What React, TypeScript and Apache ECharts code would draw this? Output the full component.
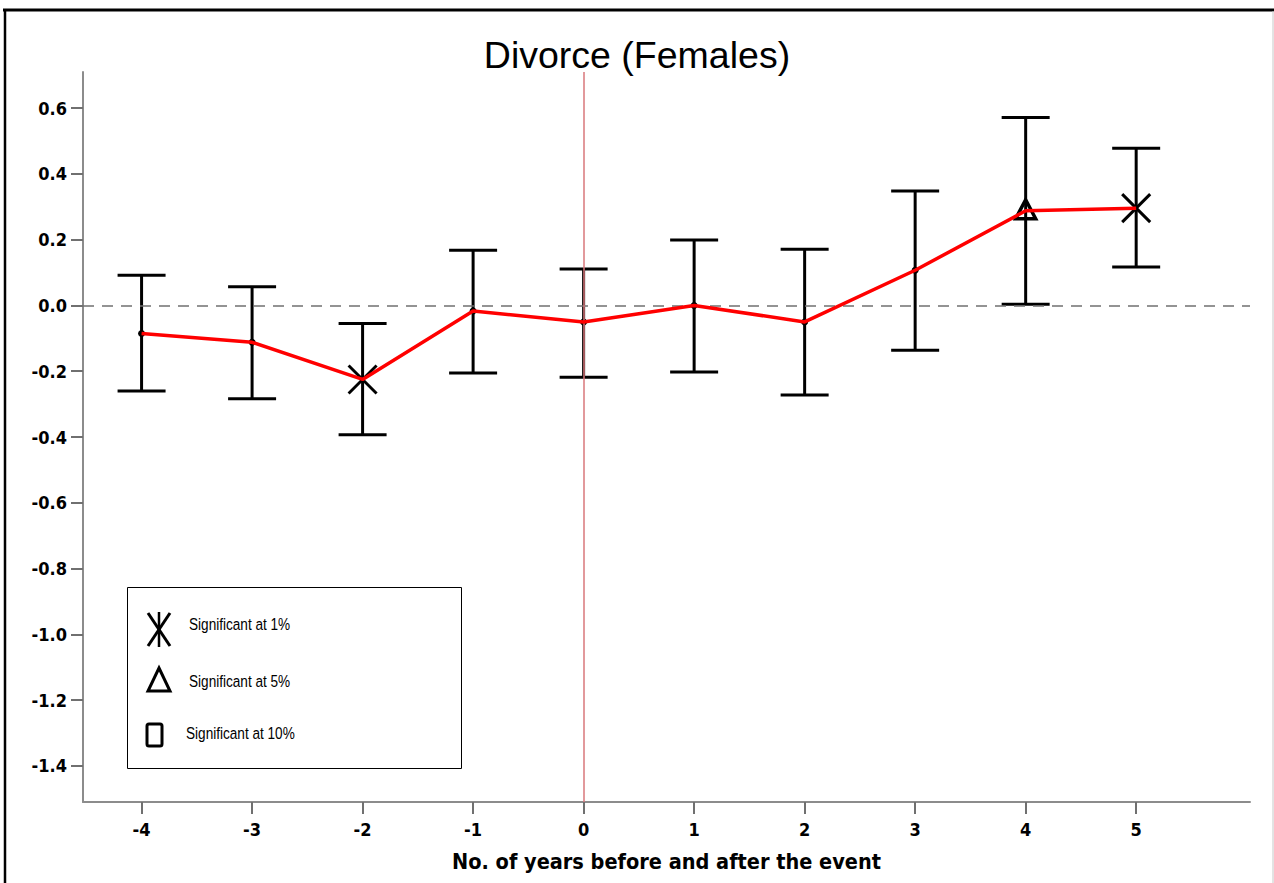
import React, { useEffect, useRef } from "react";
import * as echarts from "echarts";

const years = [-4, -3, -2, -1, 0, 1, 2, 3, 4, 5];
const means = [-0.085, -0.112, -0.225, -0.017, -0.05, 0.0, -0.05, 0.107, 0.288, 0.296];
const upper = [0.092, 0.057, -0.055, 0.168, 0.111, 0.199, 0.171, 0.348, 0.572, 0.478];
const lower = [-0.26, -0.284, -0.393, -0.205, -0.218, -0.202, -0.272, -0.136, 0.004, 0.117];
const significance = ["", "", "1%", "", "", "", "", "", "5%", "1%"];
const yTicks = [-1.4, -1.2, -1.0, -0.8, -0.6, -0.4, -0.2, 0.0, 0.2, 0.4, 0.6];
const legendLabels = ["Significant at 1%", "Significant at 5%", "Significant at 10%"];

const TICK_FONT = "'DejaVu Sans Condensed', 'DejaVu Sans', sans-serif";
const LEGEND_FONT = "'Liberation Sans', Arial, sans-serif";

export default function App() {
  const ref = useRef<HTMLDivElement>(null);
  useEffect(() => {
    if (!ref.current) return;
    const chart = echarts.init(ref.current, null, { renderer: "svg" });
    const black = "#000";
    const legendText = (label: string, x: number, y: number) => ({
      type: "text",
      x,
      y,
      scaleX: 0.8,
      z: 11,
      style: { text: label, fontFamily: LEGEND_FONT, fontSize: 17, fill: "#000", verticalAlign: "middle" },
    });
    const option: any = {
      animation: false,
      backgroundColor: "#fff",
      title: {
        text: "Divorce (Females)",
        left: "center",
        top: 31,
        padding: [5, 0, 5, 6],
        textStyle: { fontFamily: "'Liberation Sans', Arial, sans-serif", fontSize: 37.5, fontWeight: "normal", color: "#000" },
      },
      grid: { left: 83, top: 72, right: 24, bottom: 81, containLabel: false },
      xAxis: {
        type: "value",
        min: -4.53,
        max: 6.03,
        name: "No. of years before and after the event",
        nameLocation: "middle",
        nameGap: 48,
        nameTextStyle: { fontFamily: TICK_FONT, fontWeight: "bold", fontSize: 21.5, color: "#000" },
        axisLine: { show: true, onZero: false, lineStyle: { color: "#8c8c8c", width: 2 } },
        axisTick: { show: true, length: 12, customValues: years, lineStyle: { color: "#707070", width: 2 } },
        axisLabel: {
          customValues: years,
          margin: 18,
          fontFamily: TICK_FONT,
          fontWeight: "bold",
          fontSize: 18,
          color: "#000",
          formatter: (v: number) => String(v),
        },
        splitLine: { show: false },
      },
      yAxis: {
        type: "value",
        min: -1.51,
        max: 0.71,
        axisLine: { show: true, onZero: false, lineStyle: { color: "#8c8c8c", width: 2 } },
        axisTick: { show: true, length: 12, customValues: yTicks, lineStyle: { color: "#707070", width: 2 } },
        axisLabel: {
          customValues: yTicks,
          margin: 16,
          fontFamily: TICK_FONT,
          fontWeight: "bold",
          fontSize: 18,
          color: "#000",
          formatter: (v: number) => v.toFixed(1),
        },
        splitLine: { show: false },
      },
      series: [
        {
          type: "custom",
          z: 2,
          data: years.map((y, i) => [y, lower[i], upper[i], means[i]]),
          encode: { x: 0, y: [1, 2, 3] },
          renderItem: (params: any, api: any) => {
            const x = api.value(0);
            const lo = api.coord([x, api.value(1)]);
            const hi = api.coord([x, api.value(2)]);
            const m = api.coord([x, api.value(3)]);
            const sig = significance[params.dataIndex];
            const st = { stroke: black, lineWidth: 3, fill: "none" };
            const cap = 24;
            const children: any[] = [
              { type: "line", shape: { x1: hi[0], y1: hi[1], x2: lo[0], y2: lo[1] }, style: st },
              { type: "line", shape: { x1: hi[0] - cap, y1: hi[1], x2: hi[0] + cap, y2: hi[1] }, style: st },
              { type: "line", shape: { x1: lo[0] - cap, y1: lo[1], x2: lo[0] + cap, y2: lo[1] }, style: st },
            ];
            if (sig === "1%") {
              const d = 14;
              children.push({ type: "line", shape: { x1: m[0] - d, y1: m[1] - d, x2: m[0] + d, y2: m[1] + d }, style: st });
              children.push({ type: "line", shape: { x1: m[0] + d, y1: m[1] - d, x2: m[0] - d, y2: m[1] + d }, style: st });
            } else if (sig === "5%") {
              children.push({
                type: "polygon",
                shape: { points: [[m[0], m[1] - 11], [m[0] + 10, m[1] + 8], [m[0] - 10, m[1] + 8]] },
                style: { stroke: black, lineWidth: 3.5, fill: "none" },
              });
            } else {
              children.push({ type: "circle", shape: { cx: m[0], cy: m[1], r: 3.5 }, style: { fill: black } });
            }
            return { type: "group", children };
          },
        },
        {
          type: "line",
          z: 5,
          data: years.map((y, i) => [y, means[i]]),
          symbol: "none",
          lineStyle: { color: "#ff0000", width: 3.5 },
          markLine: {
            silent: true,
            symbol: "none",
            label: { show: false },
            data: [
              { yAxis: 0, lineStyle: { color: "#707070", width: 1.5, type: [11, 8] } },
              { xAxis: 0, lineStyle: { color: "#d9777b", width: 1.5, type: "solid" } },
            ],
          },
        },
      ],
      graphic: [
        { type: "line", shape: { x1: 3, y1: 10, x2: 1274, y2: 10 }, style: { stroke: "#000", lineWidth: 3 } },
        { type: "line", shape: { x1: 5, y1: 9, x2: 5, y2: 883 }, style: { stroke: "#000", lineWidth: 2.5 } },
        { type: "line", shape: { x1: 1273, y1: 11, x2: 1273, y2: 883 }, style: { stroke: "#c8c8c8", lineWidth: 1 } },
        { type: "rect", shape: { x: 127.5, y: 587.5, width: 334, height: 181 }, style: { fill: "#fff", stroke: "#000", lineWidth: 1 }, z: 10 },
        // 1% marker: asterisk
        { type: "line", shape: { x1: 148, y1: 613, x2: 170, y2: 646 }, style: { stroke: "#000", lineWidth: 3 }, z: 11 },
        { type: "line", shape: { x1: 170, y1: 613, x2: 148, y2: 646 }, style: { stroke: "#000", lineWidth: 3 }, z: 11 },
        { type: "line", shape: { x1: 159, y1: 612, x2: 159, y2: 647 }, style: { stroke: "#000", lineWidth: 2.5 }, z: 11 },
        // 5% marker: triangle
        { type: "polygon", shape: { points: [[159, 668], [170, 691], [148, 691]] }, style: { fill: "none", stroke: "#000", lineWidth: 3 }, z: 11 },
        // 10% marker: rectangle
        { type: "rect", shape: { x: 147, y: 724, width: 15, height: 22, r: 2 }, style: { fill: "none", stroke: "#000", lineWidth: 3 }, z: 11 },
        legendText(legendLabels[0], 189, 624),
        legendText(legendLabels[1], 189, 681),
        legendText(legendLabels[2], 186, 733),
      ],
    };
    chart.setOption(option);
    return () => chart.dispose();
  }, []);
  return <div ref={ref} style={{ position: "fixed", left: 0, top: 0, width: 1274, height: 883 }} />;
}
